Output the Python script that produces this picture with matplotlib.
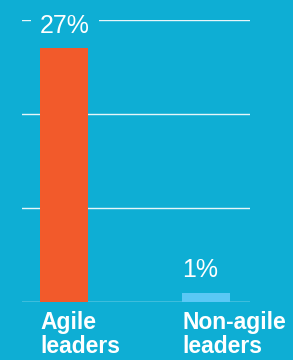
import matplotlib
matplotlib.use("Agg")
import matplotlib.pyplot as plt
from matplotlib.transforms import blended_transform_factory

categories = ["Agile\nleaders", "Non-agile\nleaders"]
values = [27, 1]
value_labels = ["27%", "1%"]
bar_colors = ["#f25a2b", "#5ac8f5"]
yticks = [0, 10, 20, 30]

bg = "#0eaed4"
plt.rcParams['font.family'] = ['Liberation Sans', 'DejaVu Sans']

fig = plt.figure(figsize=(2.93, 3.60), dpi=100, facecolor=bg)
ax = fig.add_axes([22/293, 58/360, 228/293, 282/360])
ax.set_facecolor(bg)

x = list(range(len(categories)))
width = 48/142
ax.bar(x, values, width=width, color=bar_colors, zorder=3)

for yt in yticks:
    ax.axhline(yt, color="white", lw=1.0, alpha=0.9 if yt else 1.0, zorder=1)

ax.set_xlim(-42/142, 1 + 44/142)
ax.set_ylim(0, 30)
for s in ax.spines.values():
    s.set_visible(False)
ax.set_xticks([]); ax.set_yticks([])

for xi, v, lab in zip(x, values, value_labels):
    ax.annotate(lab, (xi - width/2, v), xytext=(0, 15.5), textcoords="offset pixels",
                ha="left", va="baseline", color="white", fontsize=18,
                zorder=5,
                bbox=dict(boxstyle="square,pad=0.36", fc=bg, ec="none"))

trans = blended_transform_factory(ax.transData, ax.transAxes)
for xi, c in zip(x, categories):
    ax.text(xi - width/2, -0.033, c, transform=trans, ha="left", va="top",
            color="white", fontsize=16.5, fontweight="bold", linespacing=1.05)

fig.savefig("out.png", dpi=100, facecolor=bg)
